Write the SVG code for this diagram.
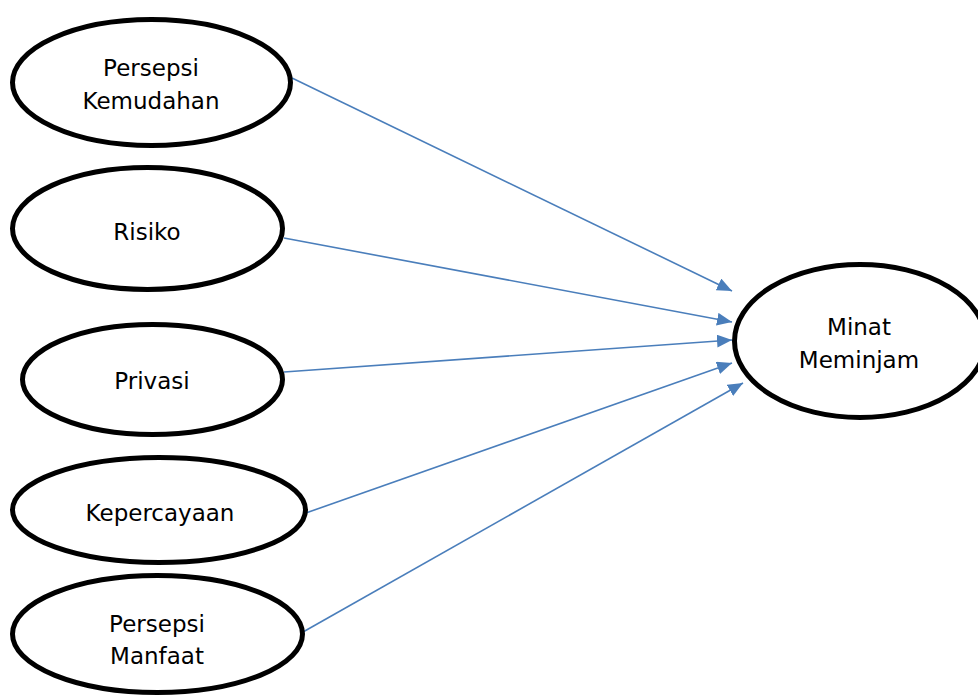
<svg xmlns="http://www.w3.org/2000/svg" width="978" height="697" viewBox="0 0 978 697">
<defs>
<style>
.node ellipse{fill:#fff;stroke:#000;stroke-width:5}
.node text{font-family:"DejaVu Sans","Liberation Sans",sans-serif;font-size:23px;fill:#000;text-anchor:middle}
.edge{stroke:#4A7EBB;stroke-width:1.6;fill:none;marker-end:url(#arr)}
</style>
<marker id="arr" markerUnits="userSpaceOnUse" markerWidth="16" markerHeight="14" refX="15" refY="6.5" orient="auto">
<path d="M0,0 L15,6.5 L0,13 z" fill="#4A7EBB"/>
</marker>
</defs>
<rect width="978" height="697" fill="#fff"/>
<g id="connectors">
<line class="edge" x1="292" y1="78" x2="732" y2="291"/>
<line class="edge" x1="284" y1="238" x2="732" y2="322"/>
<line class="edge" x1="284" y1="372" x2="732" y2="340"/>
<line class="edge" x1="303" y1="514" x2="732" y2="363"/>
<line class="edge" x1="303" y1="632" x2="743" y2="383"/>
</g>
<g id="persepsi-kemudahan" class="node">
<ellipse cx="151.5" cy="82.5" rx="139" ry="63"/>
<text x="151" y="76">Persepsi</text>
<text x="151" y="109">Kemudahan</text>
</g>
<g id="risiko" class="node">
<ellipse cx="147.5" cy="228.5" rx="135" ry="61"/>
<text x="147" y="240">Risiko</text>
</g>
<g id="privasi" class="node">
<ellipse cx="152.5" cy="379.5" rx="130" ry="55"/>
<text x="152" y="389">Privasi</text>
</g>
<g id="kepercayaan" class="node">
<ellipse cx="159" cy="510" rx="146.5" ry="52.5"/>
<text x="160" y="521">Kepercayaan</text>
</g>
<g id="persepsi-manfaat" class="node">
<ellipse cx="157.5" cy="634" rx="145" ry="58.5"/>
<text x="157" y="632">Persepsi</text>
<text x="157" y="664">Manfaat</text>
</g>
<g id="minat-meminjam" class="node">
<ellipse cx="860" cy="341" rx="125.5" ry="76.5"/>
<text x="859" y="335">Minat</text>
<text x="859" y="368">Meminjam</text>
</g>
</svg>
